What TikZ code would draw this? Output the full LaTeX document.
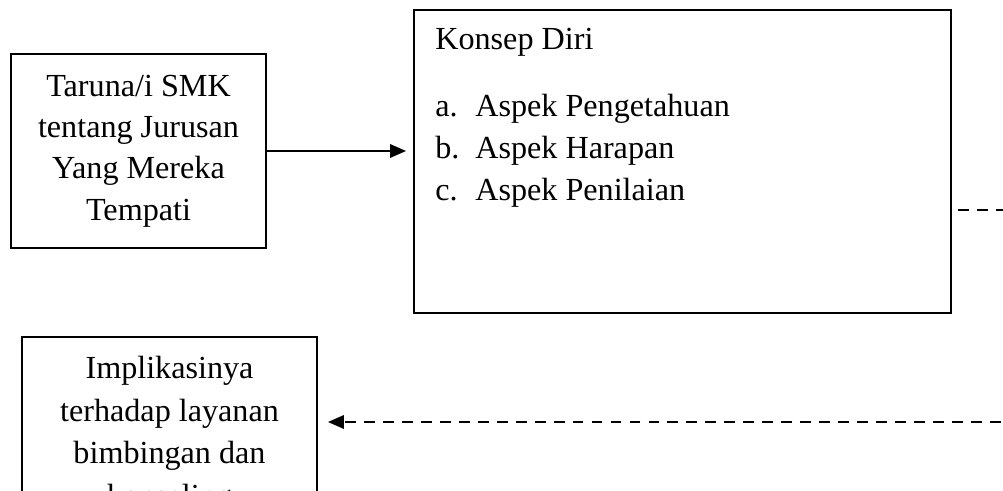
\documentclass[tikz,border=0pt]{standalone}
\usepackage{fontspec}
\setmainfont{Liberation Serif}
\usetikzlibrary{arrows.meta}

\tikzset{
  kotak/.style={draw, line width=1.1pt, inner sep=0pt, align=center},
  tulisan/.style={anchor=base west, inner sep=0pt},
  garis/.style={line width=1.1pt},
  putus/.style={line width=1.1pt, dash pattern=on 6.2pt off 4.6pt},
  panah/.style={-{Triangle[length=0.32cm,width=0.27cm]}}
}

\begin{document}
\begin{tikzpicture}[font=\fontsize{18.3}{19}\selectfont]
		\useasboundingbox (0,0) rectangle (20.06,9.82);
		\clip (0,0) rectangle (20.06,9.82);
		\node [kotak, minimum width=5.1cm, minimum height=3.88cm, font=\fontsize{18.3}{23.5}\selectfont](taruna)at (2.77,6.80) {Taruna/i SMK\\tentang Jurusan\\Yang Mereka\\Tempati};
		\node [kotak, minimum width=10.74cm, minimum height=6.06cm](konsep)at (13.65,6.59) {};
		\node [tulisan](judul)at (8.70,8.82) {Konsep Diri};
		\node [tulisan](aspekA)at (8.70,7.48) {\makebox[0.8cm][l]{a.}Aspek Pengetahuan};
		\node [tulisan](aspekB)at (8.70,6.64) {\makebox[0.8cm][l]{b.}Aspek Harapan};
		\node [tulisan](aspekC)at (8.70,5.80) {\makebox[0.8cm][l]{c.}Aspek Penilaian};
		\node [kotak, minimum width=5.9cm, minimum height=3.92cm, font=\fontsize{18.3}{24.2}\selectfont](implikasi)at (3.39,1.12) {Implikasinya\\terhadap layanan\\bimbingan dan\\konseling};
		\coordinate (keluar) at (20.4,5.62);
		\coordinate (masuk) at (20.4,1.38);
		\draw [garis, panah, shorten >=0.14cm](taruna.east)--(taruna.east -| konsep.west);
		\draw [putus, shorten <=0.12cm](keluar -| konsep.east)--(keluar);
		\draw [putus, panah, shorten >=0.2cm](masuk)--(masuk -| implikasi.east);
	\end{tikzpicture}
\end{document}
